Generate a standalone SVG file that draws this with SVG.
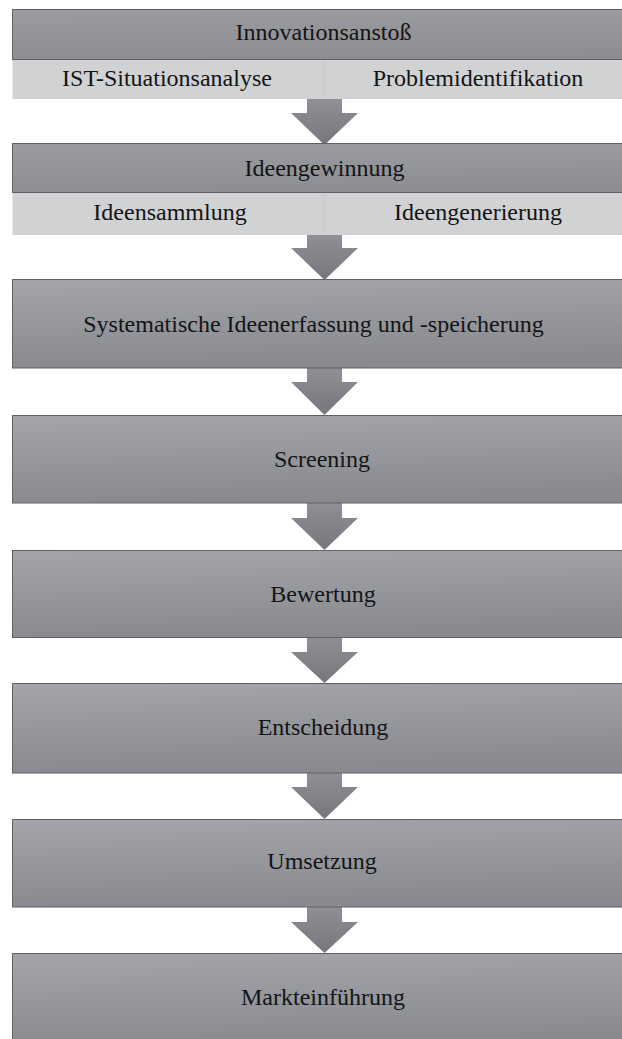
<svg xmlns="http://www.w3.org/2000/svg" width="622" height="1039" viewBox="0 0 622 1039">
<defs>
<linearGradient id="g" x1="0" y1="0" x2="0.15" y2="1">
<stop offset="0" stop-color="#a3a5aa"/>
<stop offset="1" stop-color="#888a90"/>
</linearGradient>
<linearGradient id="gh" x1="0" y1="0" x2="0.1" y2="1">
<stop offset="0" stop-color="#9a9ca1"/>
<stop offset="1" stop-color="#8c8e94"/>
</linearGradient>
<linearGradient id="ga" x1="0" y1="0" x2="0" y2="1">
<stop offset="0" stop-color="#8e9096"/>
<stop offset="1" stop-color="#75777d"/>
</linearGradient>
</defs>
<style>
.box{fill:url(#g);stroke:#5f6165;stroke-width:1}
.hdr{fill:url(#gh);stroke:#5f6165;stroke-width:1}
.band{fill:#d1d2d4}
.arr{fill:url(#ga)}
text{font-family:"Liberation Serif","Times New Roman",serif;font-size:24px;fill:#141414;text-anchor:middle}
</style>
<rect width="622" height="1039" fill="#ffffff"/>
<g id="connectors">
<polygon class="arr" points="307,99 342,99 342,113 358,113 324.5,145 291,113 307,113"/>
<polygon class="arr" points="307,235 342,235 342,248 358,248 324.5,280 291,248 307,248"/>
<polygon class="arr" points="307,368 342,368 342,382 358,382 324.5,415 291,382 307,382"/>
<polygon class="arr" points="307,503 342,503 342,518 358,518 324.5,550 291,518 307,518"/>
<polygon class="arr" points="307,637 342,637 342,652 358,652 324.5,683 291,652 307,652"/>
<polygon class="arr" points="307,773 342,773 342,787 358,787 324.5,819 291,787 307,787"/>
<polygon class="arr" points="307,907 342,907 342,922 358,922 324.5,953 291,922 307,922"/>
</g>
<g id="n1">
<rect class="band" x="12.5" y="59" width="630" height="40"/>
<line x1="324.5" y1="59" x2="324.5" y2="99" stroke="#c8c9cb" stroke-width="1"/>
<rect class="hdr" x="12.5" y="9.5" width="630" height="50"/>
<text x="323.5" y="40">Innovationsanstoß</text>
<text x="167" y="86">IST-Situationsanalyse</text>
<text x="478" y="86">Problemidentifikation</text>
</g>
<g id="n2">
<rect class="band" x="12.5" y="192" width="630" height="43"/>
<line x1="324.5" y1="192" x2="324.5" y2="235" stroke="#c8c9cb" stroke-width="1"/>
<rect class="hdr" x="12.5" y="143.5" width="630" height="49"/>
<text x="324.5" y="176">Ideengewinnung</text>
<text x="170" y="220">Ideensammlung</text>
<text x="478" y="220">Ideengenerierung</text>
</g>
<g id="n3">
<rect class="box" x="12.5" y="279.5" width="630" height="88.5"/>
<text x="313.5" y="332">Systematische Ideenerfassung und -speicherung</text>
</g>
<g id="n4">
<rect class="box" x="12.5" y="415.5" width="630" height="87.5"/>
<text x="322" y="467">Screening</text>
</g>
<g id="n5">
<rect class="box" x="12.5" y="550.5" width="630" height="87"/>
<text x="323" y="602">Bewertung</text>
</g>
<g id="n6">
<rect class="box" x="12.5" y="683.5" width="630" height="89.5"/>
<text x="323" y="735">Entscheidung</text>
</g>
<g id="n7">
<rect class="box" x="12.5" y="819.5" width="630" height="87.5"/>
<text x="322" y="869">Umsetzung</text>
</g>
<g id="n8">
<rect class="box" x="12.5" y="953.5" width="630" height="95"/>
<text x="323" y="1005">Markteinführung</text>
</g>
</svg>
